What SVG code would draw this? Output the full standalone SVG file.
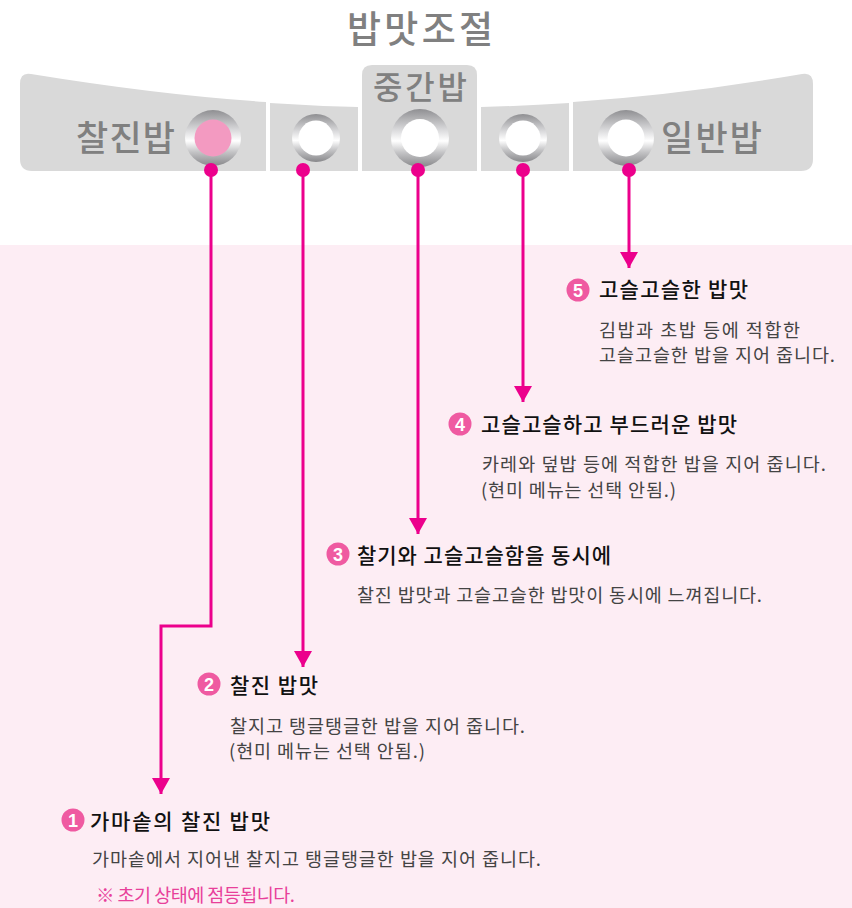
<svg xmlns="http://www.w3.org/2000/svg" width="852" height="908" viewBox="0 0 852 908">
<defs>
<linearGradient id="ring" x1="0" y1="0" x2="0" y2="1">
<stop offset="0" stop-color="#8f8f92"/>
<stop offset="0.35" stop-color="#d8d8da"/>
<stop offset="0.55" stop-color="#ffffff"/>
<stop offset="0.75" stop-color="#c4c4c6"/>
<stop offset="1" stop-color="#88888b"/>
</linearGradient>
<marker id="arr" viewBox="0 0 16 18" refX="16" refY="9" markerWidth="16" markerHeight="18" markerUnits="userSpaceOnUse" orient="auto">
<path d="M0,0 L16,9 L0,18 Z" fill="#ec008c"/>
</marker>
<style>
.panel{fill:#d9d9d9}
.lbl{font-family:"Noto Sans CJK KR","Noto Sans",sans-serif;fill:#808080;font-weight:500}
.ring{fill:url(#ring)}
.dot{fill:#ec008c}
.conn{fill:none;stroke:#ec008c;stroke-width:3}
.num{fill:#ef5aa1}
.numt{font-family:"Liberation Sans",Arial,sans-serif;font-size:18px;font-weight:bold;fill:#ffffff;text-anchor:middle}
.head{font-family:"Noto Sans CJK KR","Noto Sans",sans-serif;font-size:21px;font-weight:500;fill:#111111}
.body{font-family:"Noto Sans CJK KR","Noto Sans",sans-serif;font-size:18.5px;fill:#444444}
.note{font-family:"Noto Sans CJK KR","Noto Sans",sans-serif;font-size:18.5px;fill:#e8409a}
</style>
</defs>
<rect x="0" y="245" width="852" height="663" fill="#fdedf4"/>
<text class="lbl" x="420" y="43" font-size="37" font-weight="bold" text-anchor="middle" textLength="146">밥맛조절</text>
<g id="panel">
<path class="panel" d="M20,84 Q20,72 31,74 Q160,95 266,102 L266,171 L32,171 Q20,171 20,159 Z"/>
<path class="panel" d="M270,103 Q315,106 358,107 L358,171 L270,171 Z"/>
<path class="panel" d="M362,171 L362,75 Q362,65 372,65 L467,65 Q477,65 477,75 L477,171 Z"/>
<path class="panel" d="M481,107 Q525,106 569,103 L569,171 L481,171 Z"/>
<path class="panel" d="M573,102 Q680,95 802,74 Q813,72 813,84 L813,159 Q813,171 801,171 L573,171 Z"/>
<text class="lbl" x="76" y="151" font-size="35" textLength="99">찰진밥</text>
<text class="lbl" x="373" y="99" font-size="32" textLength="94">중간밥</text>
<text class="lbl" x="661" y="151" font-size="35" textLength="101">일반밥</text>
</g>
<g id="btn1"><circle class="ring" cx="213" cy="138" r="28"/><circle cx="213" cy="138" r="18.5" fill="#f39ac1"/></g>
<g id="btn2"><circle class="ring" cx="316" cy="138" r="24"/><circle cx="316" cy="138" r="17.5" fill="#ffffff"/></g>
<g id="btn3"><circle class="ring" cx="420" cy="138" r="29"/><circle cx="420" cy="138" r="19" fill="#ffffff"/></g>
<g id="btn4"><circle class="ring" cx="523" cy="138" r="24"/><circle cx="523" cy="138" r="17.5" fill="#ffffff"/></g>
<g id="btn5"><circle class="ring" cx="626" cy="138" r="28"/><circle cx="626" cy="138" r="18.5" fill="#ffffff"/></g>
<g id="connectors">
<path class="conn" d="M211,170 L211,626 L161,626 L161,794" marker-end="url(#arr)"/>
<path class="conn" d="M303,170 L303,667" marker-end="url(#arr)"/>
<path class="conn" d="M418,170 L418,534" marker-end="url(#arr)"/>
<path class="conn" d="M523,170 L523,402" marker-end="url(#arr)"/>
<path class="conn" d="M629,170 L629,268" marker-end="url(#arr)"/>
<circle class="dot" cx="211" cy="170" r="7"/>
<circle class="dot" cx="303" cy="170" r="7"/>
<circle class="dot" cx="418" cy="170" r="7"/>
<circle class="dot" cx="523" cy="170" r="7"/>
<circle class="dot" cx="629" cy="170" r="7"/>
</g>
<g id="item5">
<circle class="num" cx="578" cy="290" r="11.5"/><text class="numt" x="578" y="296.5">5</text>
<text class="head" x="599" y="297" textLength="149">고슬고슬한 밥맛</text>
<text class="body" x="599" y="337" textLength="201">김밥과 초밥 등에 적합한</text>
<text class="body" x="599" y="362" textLength="236">고슬고슬한 밥을 지어 줍니다.</text>
</g>
<g id="item4">
<circle class="num" cx="460" cy="424" r="11.5"/><text class="numt" x="460" y="430.5">4</text>
<text class="head" x="481" y="432" textLength="256">고슬고슬하고 부드러운 밥맛</text>
<text class="body" x="482" y="471" textLength="344">카레와 덮밥 등에 적합한 밥을 지어 줍니다.</text>
<text class="body" x="481" y="497" textLength="195">(현미 메뉴는 선택 안됨.)</text>
</g>
<g id="item3">
<circle class="num" cx="338" cy="554" r="11.5"/><text class="numt" x="338" y="560.5">3</text>
<text class="head" x="357" y="563" textLength="254">찰기와 고슬고슬함을 동시에</text>
<text class="body" x="357" y="602" textLength="405">찰진 밥맛과 고슬고슬한 밥맛이 동시에 느껴집니다.</text>
</g>
<g id="item2">
<circle class="num" cx="209" cy="684" r="11.5"/><text class="numt" x="209" y="690.5">2</text>
<text class="head" x="230" y="693" textLength="88">찰진 밥맛</text>
<text class="body" x="230" y="733" textLength="295">찰지고 탱글탱글한 밥을 지어 줍니다.</text>
<text class="body" x="229" y="758" textLength="196">(현미 메뉴는 선택 안됨.)</text>
</g>
<g id="item1">
<circle class="num" cx="73" cy="820" r="11.5"/><text class="numt" x="73" y="826.5">1</text>
<text class="head" x="90" y="829" textLength="180">가마솥의 찰진 밥맛</text>
<text class="body" x="92" y="866" textLength="449">가마솥에서 지어낸 찰지고 탱글탱글한 밥을 지어 줍니다.</text>
<text class="note" x="96" y="902" textLength="199">※ 초기 상태에 점등됩니다.</text>
</g>
</svg>
